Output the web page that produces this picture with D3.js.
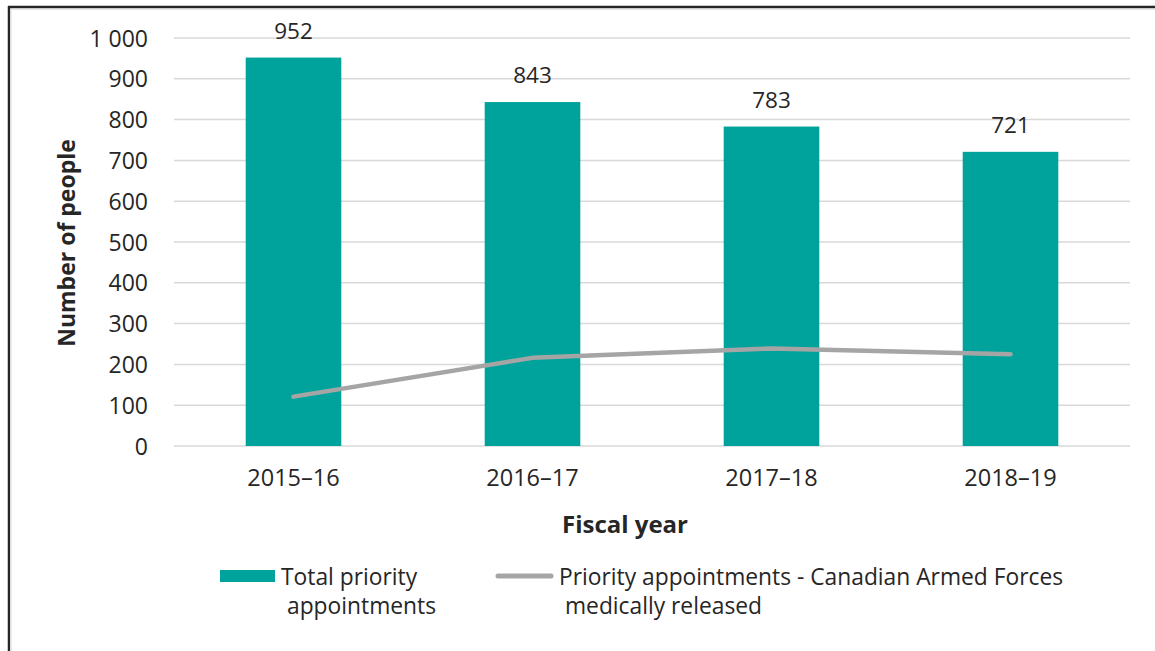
<!DOCTYPE html>
<html>
<head>
<meta charset="utf-8">
<script src="https://cdn.jsdelivr.net/npm/d3@7"></script>
<style>
  html, body { margin: 0; padding: 0; background: #fff; }
  svg { display: block; }
  text { font-family: "Open Sans", sans-serif; fill: #262626; }
</style>
</head>
<body>
<svg id="chart" width="1155" height="651"></svg>
<script>
// Fiscal years and counts of priority appointments
const years = ["2015–16", "2016–17", "2017–18", "2018–19"];
const totalPriority = [952, 843, 783, 721];
const cafMedicallyReleased = [121, 216, 239, 225];
const yTicks = [0, 100, 200, 300, 400, 500, 600, 700, 800, 900, 1000];

const svg = d3.select("#chart");
const W = 1155, H = 651;
const FONT = "'Open Sans', sans-serif";

// frame
svg.append("rect").attr("x", 0).attr("y", 0).attr("width", W).attr("height", H).attr("fill", "#fff");
svg.append("line").attr("x1", 9).attr("x2", 9).attr("y1", 6).attr("y2", H).attr("stroke", "#262626").attr("stroke-width", 2.5);
svg.append("line").attr("x1", 11).attr("x2", 11).attr("y1", 9).attr("y2", H).attr("stroke", "#e6e6e6").attr("stroke-width", 1.5);
svg.append("line").attr("x1", 8).attr("x2", W).attr("y1", 7).attr("y2", 7).attr("stroke", "#262626").attr("stroke-width", 2.5);
svg.append("line").attr("x1", 10).attr("x2", W).attr("y1", 9.5).attr("y2", 9.5).attr("stroke", "#e6e6e6").attr("stroke-width", 1.2);

const x = d3.scaleBand().domain(years).range([174, 1130]).paddingInner(0.6).paddingOuter(0.3);
const y = d3.scaleLinear().domain([0, 1000]).range([446, 38]);

const fmt = d3.formatLocale({ decimal: ".", thousands: " ", grouping: [3], currency: ["", ""] }).format(",d");

// gridlines
svg.append("g").selectAll("line").data(yTicks).join("line")
  .attr("x1", 174).attr("x2", 1130)
  .attr("y1", d => y(d)).attr("y2", d => y(d))
  .attr("stroke", "#d9d9d9").attr("stroke-width", 1.5);

// y axis labels
const yAxis = d3.axisLeft(y).tickValues(yTicks).tickFormat(fmt).tickSize(0).tickPadding(0);
const gy = svg.append("g").attr("transform", "translate(148,0)").call(yAxis);
gy.select(".domain").remove();
gy.selectAll("text").attr("font-size", 23).attr("font-family", FONT).attr("fill", "#262626").attr("dy", "0.35em");

// x axis labels
const xAxis = d3.axisBottom(x).tickSize(0).tickPadding(0);
const gx = svg.append("g").attr("transform", "translate(0,486)").call(xAxis);
gx.select(".domain").remove();
gx.selectAll("text").attr("font-size", 23.5).attr("font-family", FONT).attr("fill", "#262626").attr("y", 0).attr("dy", 0);

// bars
svg.append("g").selectAll("rect").data(totalPriority).join("rect")
  .attr("x", (d, i) => x(years[i]))
  .attr("width", x.bandwidth())
  .attr("y", d => y(d))
  .attr("height", d => y(0) - y(d))
  .attr("fill", "#00a39c");

// value labels
svg.append("g").selectAll("text").data(totalPriority).join("text")
  .attr("x", (d, i) => x(years[i]) + x.bandwidth() / 2)
  .attr("y", d => y(d) - 19)
  .attr("text-anchor", "middle")
  .attr("font-size", 22.5)
  .text(d => d);

// CAF medically released line
const line = d3.line()
  .x((d, i) => x(years[i]) + x.bandwidth() / 2)
  .y(d => y(d));
svg.append("path").datum(cafMedicallyReleased)
  .attr("d", line)
  .attr("fill", "none")
  .attr("stroke", "#a5a5a5")
  .attr("stroke-width", 4.5)
  .attr("stroke-linecap", "round")
  .attr("stroke-linejoin", "round");

// axis titles
svg.append("text")
  .attr("transform", "translate(75,243) rotate(-90)")
  .attr("text-anchor", "middle")
  .attr("font-size", 23).attr("font-weight", "bold")
  .text("Number of people");

svg.append("text")
  .attr("x", 625).attr("y", 533)
  .attr("text-anchor", "middle")
  .attr("font-size", 24).attr("font-weight", "bold")
  .text("Fiscal year");

// legend
const leg = svg.append("g");
leg.append("rect").attr("x", 220).attr("y", 570).attr("width", 55).attr("height", 12).attr("fill", "#00a39c");
leg.append("text").attr("x", 281).attr("y", 585).attr("font-size", 22.8).text("Total priority");
leg.append("text").attr("x", 287).attr("y", 614).attr("font-size", 22.8).text("appointments");
leg.append("line").attr("x1", 498).attr("x2", 551).attr("y1", 576).attr("y2", 576)
  .attr("stroke", "#a5a5a5").attr("stroke-width", 5).attr("stroke-linecap", "round");
leg.append("text").attr("x", 559).attr("y", 585).attr("font-size", 22.8).text("Priority appointments - Canadian Armed Forces");
leg.append("text").attr("x", 565).attr("y", 614).attr("font-size", 22.8).text("medically released");
</script>
</body>
</html>
